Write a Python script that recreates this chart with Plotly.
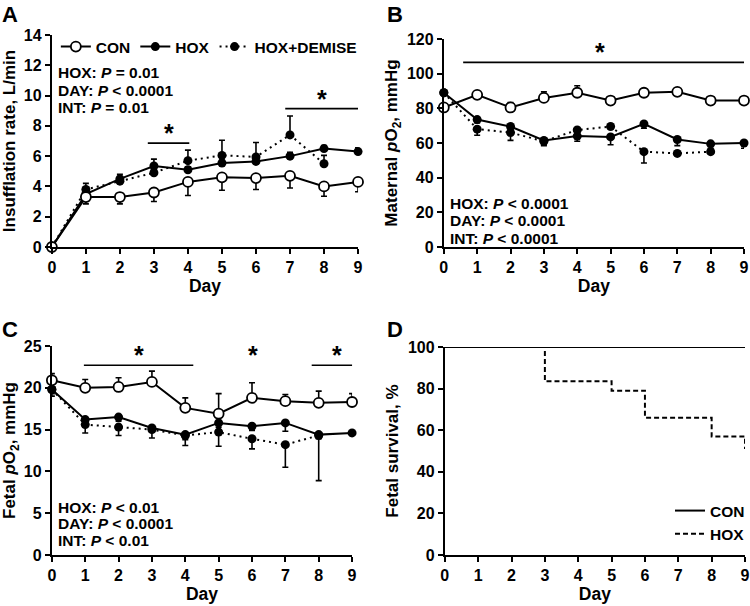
import plotly.graph_objects as go

W, H = 750, 606
FONT = "Liberation Sans, Arial, sans-serif"

days = list(range(10))
days_dem = list(range(9))

# Panel A: insufflation rate (L/min)
a_con = [0, 3.3, 3.3, 3.6, 4.3, 4.6, 4.55, 4.7, 4.0, 4.3]
a_con_err = [0, 0.45, 0.45, 0.6, 0.9, 0.85, 0.75, 0.8, 0.65, 0.65]
a_hox = [0, 3.5, 4.5, 5.35, 5.1, 5.55, 5.65, 6.0, 6.5, 6.3]
a_hox_err = [0, 0.3, 0.3, 0.45, 0.2, 0.2, 0.2, 0.25, 0.2, 0.25]
a_dem = [0, 3.8, 4.35, 4.9, 5.7, 6.05, 5.95, 7.4, 5.5]
a_dem_err = [0, 0.4, 0.3, 0.2, 0.7, 1.0, 0.95, 1.25, 0.55]
a_sig_x = [[2.82, 4.04], [6.86, 9.0]]
a_sig_y = [6.86, 9.14]
a_stats = ["HOX: <i>P</i> = 0.01", "DAY: <i>P</i> < 0.0001", "INT: <i>P</i> = 0.01"]

# Panel B: maternal pO2 (mmHg)
b_con = [80.5, 87.8, 80.5, 86, 89, 84.5, 89, 89.5, 84.5, 84.5]
b_con_err = [1, 1, 2.8, 3.5, 4, 1, 1, 1, 1, 1]
b_hox = [89, 73.5, 69.5, 61.5, 64, 63.5, 71, 62, 59.5, 60]
b_hox_err = [1, 2, 2, 3, 3, 4.5, 2.5, 3.5, 2.5, 3]
b_dem = [89, 68, 66, 61, 67.5, 69.5, 55, 54, 55]
b_dem_err = [1, 3.5, 4.5, 2, 1, 1, 6.5, 1, 1]
b_sig_x = [[0.58, 9.07]]
b_sig_y = [106.5]
b_stats = ["HOX: <i>P</i> < 0.0001", "DAY: <i>P</i> < 0.0001", "INT: <i>P</i> < 0.0001"]

# Panel C: fetal pO2 (mmHg)
c_con = [20.9, 20.0, 20.1, 20.7, 17.6, 16.9, 18.8, 18.4, 18.2, 18.3]
c_con_err = [0.8, 1.0, 1.1, 1.3, 1.2, 2.4, 1.8, 0.8, 1.4, 1.0]
c_hox = [19.8, 16.2, 16.5, 15.2, 14.4, 15.8, 15.4, 15.8, 14.4, 14.6]
c_hox_err = [0.5, 0.6, 0.5, 0.5, 0.6, 0.5, 0.5, 1.0, 0.5, 0.3]
c_dem = [19.8, 15.6, 15.3, 15.0, 14.3, 14.7, 13.9, 13.2, 14.3]
c_dem_err = [0.8, 1.0, 1.0, 1.0, 1.2, 1.7, 1.2, 2.7, 5.4]
c_sig_x = [[0.96, 4.24], [7.79, 9.23]]
c_sig_y = [22.7, 22.7]
c_star_x = [2.6, 6.03, 8.55]
c_stats = ["HOX: <i>P</i> < 0.01", "DAY: <i>P</i> < 0.0001", "INT: <i>P</i> < 0.01"]

# Panel D: fetal survival (%)
d_con_x = [0, 9]
d_con = [100, 100]
d_hox_x = [0, 3, 5, 6, 8, 9]
d_hox = [100, 83.5, 79, 66, 57, 51]

def px_x(p):
    return p / W

def px_y(p):
    return 1 - p / H

fig = go.Figure()

def add_group(xa, ya, con, con_err, hox, hox_err, dem, dem_err, con_up, show):
    ekw = dict(type="data", symmetric=False, color="black", thickness=1.6, width=3)
    if con_up:
        ce = dict(ekw, array=con_err, arrayminus=[0] * len(con_err))
        he = dict(ekw, array=[0] * len(hox_err), arrayminus=hox_err)
        de = dict(ekw, array=[0] * len(dem_err), arrayminus=dem_err)
    else:
        ce = dict(ekw, array=[0] * len(con_err), arrayminus=con_err)
        he = dict(ekw, array=hox_err, arrayminus=[0] * len(hox_err))
        de = dict(ekw, array=dem_err, arrayminus=[0] * len(dem_err))
    fig.add_trace(go.Scatter(x=days_dem, y=dem, mode="lines+markers", name="<b>HOX+DEMISE</b>",
                             line=dict(color="black", width=2, dash="2px,4px"),
                             marker=dict(symbol="circle", size=9, color="black"),
                             error_y=de, xaxis=xa, yaxis=ya, cliponaxis=False,
                             showlegend=show, legendrank=3))
    fig.add_trace(go.Scatter(x=days, y=hox, mode="lines+markers", name="<b>HOX</b>",
                             line=dict(color="black", width=2),
                             marker=dict(symbol="circle", size=9, color="black"),
                             error_y=he, xaxis=xa, yaxis=ya, cliponaxis=False,
                             showlegend=show, legendrank=2))
    fig.add_trace(go.Scatter(x=days, y=con, mode="lines+markers", name="<b>CON</b>",
                             line=dict(color="black", width=2),
                             marker=dict(symbol="circle", size=10, color="white",
                                         line=dict(color="black", width=1.8)),
                             error_y=ce, xaxis=xa, yaxis=ya, cliponaxis=False,
                             showlegend=show, legendrank=1))

def add_sig(xa, ya, xs, ys, stars, star_dy):
    for seg, yv in zip(xs, ys):
        fig.add_trace(go.Scatter(x=seg, y=[yv, yv], mode="lines",
                                 line=dict(color="black", width=1.6),
                                 xaxis=xa, yaxis=ya, showlegend=False,
                                 cliponaxis=False, hoverinfo="skip"))
    for sx, sy in stars:
        fig.add_annotation(x=sx, y=sy, xref=xa, yref=ya, text="<b>*</b>",
                           showarrow=False, yshift=star_dy,
                           font=dict(size=25, family=FONT, color="black"))

add_group("x", "y", a_con, a_con_err, a_hox, a_hox_err, a_dem, a_dem_err, False, True)
add_sig("x", "y", a_sig_x, a_sig_y,
        [((s[0] + s[1]) / 2, yv) for s, yv in zip(a_sig_x, a_sig_y)], 10)

add_group("x2", "y2", b_con, b_con_err, b_hox, b_hox_err, b_dem, b_dem_err, True, False)
add_sig("x2", "y2", b_sig_x, b_sig_y, [(4.67, b_sig_y[0])], 10)

add_group("x3", "y3", c_con, c_con_err, c_hox, c_hox_err, c_dem, c_dem_err, True, False)
add_sig("x3", "y3", c_sig_x, c_sig_y, [(sx, c_sig_y[0]) for sx in c_star_x], 10)

fig.add_trace(go.Scatter(x=d_con_x, y=d_con, mode="lines", name="<b>CON</b>",
                         line=dict(color="black", width=2), line_shape="hv",
                         xaxis="x4", yaxis="y4", legend="legend2", cliponaxis=False))
fig.add_trace(go.Scatter(x=d_hox_x, y=d_hox, mode="lines", name="<b>HOX</b>",
                         line=dict(color="black", width=2, dash="5px,3px"), line_shape="hv",
                         xaxis="x4", yaxis="y4", legend="legend2", cliponaxis=False))

axis_common = dict(showline=True, linecolor="black", linewidth=2, ticks="outside",
                   tickwidth=2, ticklen=5, tickcolor="black", showgrid=False,
                   zeroline=False, automargin=False, ticklabeloverflow="allow",
                   tickfont=dict(size=16, family=FONT, color="black"))

def xaxis(domain, anchor):
    return dict(axis_common, domain=domain, anchor=anchor, range=[0, 9],
                tickvals=days, ticktext=[f"<b>{d}</b>" for d in days],
                title=dict(text="<b>Day</b>", font=dict(size=17.5, family=FONT, color="black"),
                           standoff=5))

def yaxis(domain, anchor, rng, dt, title):
    vals = list(range(rng[0], rng[1] + 1, dt))
    return dict(axis_common, domain=domain, anchor=anchor, range=rng,
                tickvals=vals, ticktext=[f"<b>{v}</b>" for v in vals],
                title=dict(text=f"<b>{title}</b>", font=dict(size=17, family=FONT, color="black"),
                           standoff=5))

fig.update_layout(
    width=W, height=H, margin=dict(l=0, r=0, t=0, b=0),
    paper_bgcolor="white", plot_bgcolor="white",
    font=dict(family=FONT, color="black"),
    xaxis=xaxis([px_x(52), px_x(359)], "y"),
    yaxis=yaxis([px_y(247), px_y(35)], "x", [0, 14], 2, "Insufflation rate, L/min"),
    xaxis2=xaxis([px_x(445), px_x(746)], "y2"),
    yaxis2=yaxis([px_y(247), px_y(39)], "x2", [0, 120], 20, "Maternal <i>p</i>O<sub>2</sub>, mmHg"),
    xaxis3=xaxis([px_x(52), px_x(353)], "y3"),
    yaxis3=yaxis([px_y(555), px_y(346)], "x3", [0, 25], 5, "Fetal <i>p</i>O<sub>2</sub>, mmHg"),
    xaxis4=xaxis([px_x(446), px_x(747)], "y4"),
    yaxis4=yaxis([px_y(555), px_y(347)], "x4", [0, 100], 20, "Fetal survival, %"),
    legend=dict(orientation="h", x=px_x(56), y=px_y(30), xanchor="left", yanchor="top",
                font=dict(size=15.5, family=FONT, color="black"), bgcolor="rgba(0,0,0,0)",
                itemwidth=30, traceorder="normal"),
    legend2=dict(orientation="v", x=px_x(672), y=px_y(494), xanchor="left", yanchor="top",
                 font=dict(size=15.5, family=FONT, color="black"), bgcolor="rgba(0,0,0,0)",
                 itemwidth=30, tracegroupgap=2),
    showlegend=True,
)

def stats(x, ycenters, lines, size):
    for yc, l in zip(ycenters, lines):
        fig.add_annotation(x=px_x(x), y=px_y(yc), xref="paper", yref="paper",
                           xanchor="left", yanchor="middle", align="left", showarrow=False,
                           text=f"<b>{l}</b>", font=dict(size=size, family=FONT, color="black"))

stats(56, [72, 90, 108], a_stats, 15.5)
stats(449, [203, 220.5, 238], b_stats, 15.5)
stats(56, [507, 523.5, 540], c_stats, 15.5)

for lab, x, y in [("A", 0, 0), ("B", 386, 0), ("C", 0, 315), ("D", 386, 315)]:
    fig.add_annotation(x=px_x(x), y=px_y(y), xref="paper", yref="paper",
                       xanchor="left", yanchor="top", showarrow=False,
                       text=f"<b>{lab}</b>", font=dict(size=22, family=FONT, color="black"))

fig.write_html("out.html", config={"displayModeBar": False},
               post_script="document.body.style.margin='0px';document.body.style.overflow='hidden';")
